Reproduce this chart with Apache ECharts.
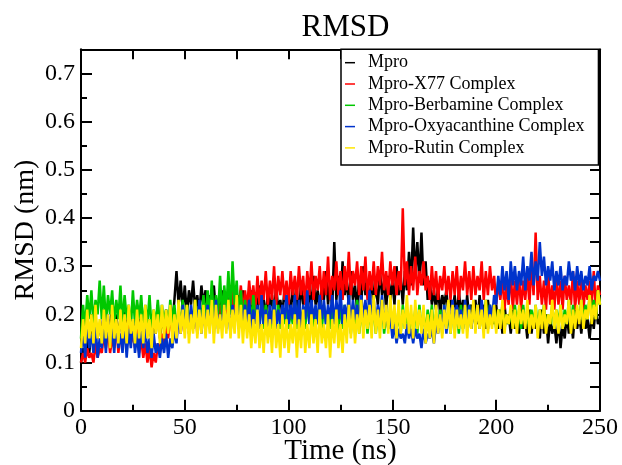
<!DOCTYPE html>
<html>
<head>
<meta charset="utf-8">
<script src="https://cdn.jsdelivr.net/npm/echarts@6/dist/echarts.min.js"></script>
<style>
html,body{margin:0;padding:0;background:#fff;}
#chart{width:622px;height:465px;}
</style>
</head>
<body>
<div id="chart"></div>
<script>
// Sampling step of the trajectory (ns)
var timeStep = 1;
var xTicks = [0, 50, 100, 150, 200, 250];
var yTicks = [0, 0.1, 0.2, 0.3, 0.4, 0.5, 0.6, 0.7];
var seriesNames = ['Mpro', 'Mpro-X77 Complex', 'Mpro-Berbamine Complex', 'Mpro-Oxyacanthine Complex', 'Mpro-Rutin Complex'];

var mpro = [
.10,.13,.11,.15,.12,.17,.14,.19,.15,.18,
.16,.21,.15,.19,.17,.22,.16,.20,.15,.19,
.17,.21,.16,.20,.14,.19,.17,.22,.16,.20,
.15,.21,.17,.19,.14,.20,.16,.22,.15,.19,
.17,.21,.16,.20,.18,.23,.29,.22,.27,.21,
.26,.20,.25,.22,.27,.21,.24,.20,.26,.22,
.25,.19,.24,.21,.26,.20,.23,.19,.25,.21,
.24,.20,.26,.21,.23,.19,.24,.20,.25,.21,
.23,.19,.25,.20,.24,.21,.26,.20,.23,.19,
.25,.21,.24,.20,.26,.21,.23,.20,.25,.22,
.24,.20,.26,.21,.25,.19,.27,.22,.24,.20,
.26,.21,.28,.22,.25,.20,.27,.23,.29,.22,
.27,.21,.35,.23,.28,.22,.31,.24,.27,.22,
.29,.23,.26,.21,.28,.22,.30,.24,.27,.21,
.28,.23,.26,.22,.29,.24,.27,.21,.28,.23,
.27,.22,.30,.24,.28,.22,.29,.25,.33,.26,
.38,.28,.35,.27,.37,.26,.31,.23,.27,.22,
.25,.21,.26,.20,.24,.22,.25,.20,.23,.21,
.24,.19,.25,.20,.23,.18,.24,.19,.22,.20,
.23,.18,.24,.19,.22,.17,.23,.19,.21,.18,
.22,.17,.21,.16,.22,.18,.20,.16,.21,.17,
.20,.16,.22,.17,.19,.15,.21,.16,.20,.17,
.19,.15,.21,.16,.20,.14,.19,.16,.18,.14,
.19,.13,.18,.15,.20,.16,.19,.15,.21,.17,
.20,.16,.21,.17,.19,.15,.20,.17,.22,.18,
.19];

var x77 = [
.10,.12,.10,.13,.11,.12,.10,.14,.11,.13,
.12,.16,.13,.17,.12,.15,.13,.18,.12,.16,
.14,.17,.13,.19,.14,.16,.13,.18,.12,.15,
.11,.14,.10,.13,.09,.12,.10,.14,.12,.16,
.14,.18,.15,.20,.16,.19,.15,.21,.16,.20,
.17,.21,.16,.20,.17,.22,.16,.21,.18,.20,
.17,.22,.18,.21,.17,.23,.18,.22,.19,.24,
.18,.23,.20,.25,.19,.24,.21,.26,.20,.25,
.21,.27,.22,.26,.21,.28,.22,.27,.23,.29,
.22,.27,.23,.30,.22,.28,.24,.29,.23,.27,
.22,.29,.24,.28,.23,.30,.24,.28,.22,.29,
.24,.31,.23,.28,.25,.30,.23,.29,.24,.32,
.23,.28,.25,.31,.24,.29,.23,.30,.25,.33,
.24,.29,.26,.31,.24,.30,.25,.32,.23,.29,
.25,.31,.24,.30,.26,.33,.25,.29,.24,.31,
.26,.30,.24,.29,.25,.42,.26,.31,.24,.30,
.25,.32,.24,.29,.26,.31,.25,.28,.23,.30,
.24,.29,.23,.28,.25,.30,.24,.28,.23,.29,
.24,.30,.23,.28,.25,.31,.24,.29,.23,.30,
.24,.28,.25,.31,.23,.29,.24,.30,.25,.28,
.22,.27,.23,.28,.21,.26,.22,.29,.21,.27,
.22,.28,.21,.27,.23,.29,.22,.31,.24,.37,
.23,.28,.22,.27,.21,.29,.22,.26,.21,.28,
.22,.27,.21,.28,.23,.26,.22,.29,.21,.27,
.22,.28,.21,.26,.23,.27,.22,.29,.21,.26,
.24];

var berbamine = [
.15,.22,.17,.24,.19,.25,.18,.23,.20,.27,
.19,.26,.18,.24,.20,.25,.18,.23,.19,.26,
.18,.24,.19,.22,.17,.25,.18,.23,.19,.24,
.17,.22,.18,.24,.17,.21,.18,.23,.17,.22,
.18,.21,.17,.23,.18,.22,.17,.21,.18,.23,
.17,.22,.18,.21,.17,.23,.18,.22,.19,.24,
.18,.25,.19,.27,.18,.24,.20,.28,.19,.26,
.21,.29,.20,.31,.22,.27,.19,.25,.18,.23,
.19,.22,.18,.24,.19,.21,.18,.23,.17,.22,
.18,.21,.17,.23,.18,.22,.17,.21,.18,.22,
.17,.21,.18,.23,.17,.22,.18,.21,.17,.23,
.18,.22,.17,.21,.18,.23,.17,.22,.18,.21,
.17,.22,.18,.21,.16,.23,.17,.22,.18,.21,
.16,.22,.17,.23,.16,.21,.17,.22,.16,.21,
.17,.22,.16,.21,.17,.23,.16,.20,.17,.22,
.16,.21,.17,.20,.16,.22,.17,.21,.16,.20,
.17,.21,.16,.22,.17,.20,.16,.21,.17,.22,
.16,.20,.17,.21,.16,.22,.17,.20,.16,.21,
.17,.21,.16,.22,.17,.20,.18,.22,.17,.21,
.18,.22,.17,.21,.18,.23,.17,.22,.18,.21,
.17,.21,.18,.22,.17,.20,.18,.21,.17,.22,
.18,.21,.17,.22,.18,.20,.17,.21,.18,.22,
.17,.21,.18,.22,.17,.20,.18,.22,.17,.21,
.18,.22,.17,.21,.18,.23,.17,.22,.18,.21,
.19,.23,.18,.22,.19,.24,.20,.23,.19,.25,
.22];

var oxyacanthine = [
.12,.17,.11,.19,.13,.16,.12,.18,.11,.15,
.13,.18,.12,.20,.14,.17,.12,.19,.13,.16,
.12,.18,.11,.17,.13,.19,.12,.16,.11,.18,
.13,.17,.12,.15,.11,.16,.12,.14,.11,.15,
.12,.16,.11,.15,.13,.17,.14,.20,.16,.22,
.17,.21,.16,.22,.18,.20,.17,.23,.16,.21,
.17,.22,.18,.21,.16,.23,.17,.20,.18,.22,
.17,.21,.16,.22,.18,.23,.17,.21,.19,.22,
.18,.23,.17,.21,.18,.22,.17,.24,.18,.21,
.17,.22,.18,.23,.17,.21,.18,.22,.19,.24,
.18,.22,.19,.24,.18,.23,.17,.22,.19,.25,
.18,.23,.19,.22,.18,.24,.19,.23,.18,.22,
.19,.24,.18,.23,.19,.25,.18,.22,.19,.24,
.18,.23,.19,.22,.18,.24,.19,.23,.18,.25,
.19,.23,.18,.22,.19,.24,.18,.21,.17,.20,
.15,.18,.14,.17,.15,.16,.14,.18,.15,.17,
.14,.17,.15,.16,.13,.17,.14,.16,.15,.17,
.14,.18,.16,.20,.17,.22,.16,.21,.18,.23,
.17,.22,.18,.21,.17,.23,.18,.22,.17,.21,
.18,.22,.17,.23,.18,.21,.17,.22,.19,.24,
.22,.28,.24,.30,.25,.29,.23,.31,.26,.30,
.25,.29,.26,.32,.25,.30,.27,.33,.26,.31,
.27,.35,.28,.32,.26,.30,.27,.31,.25,.29,
.26,.30,.25,.28,.26,.31,.27,.29,.25,.30,
.26,.29,.25,.28,.26,.30,.25,.28,.27,.29,
.27];

var rutin = [
.13,.19,.14,.21,.15,.20,.14,.22,.15,.19,
.14,.21,.15,.20,.13,.22,.15,.19,.14,.21,
.15,.20,.14,.22,.16,.19,.14,.21,.15,.20,
.14,.22,.15,.19,.13,.21,.16,.20,.14,.22,
.15,.21,.16,.22,.14,.20,.15,.23,.16,.21,
.15,.22,.14,.20,.16,.23,.15,.21,.16,.22,
.15,.21,.16,.23,.14,.22,.16,.20,.15,.22,
.16,.23,.15,.21,.16,.24,.15,.22,.14,.21,
.15,.20,.13,.19,.14,.21,.13,.18,.12,.20,
.14,.19,.12,.21,.13,.18,.11,.20,.13,.19,
.12,.18,.14,.20,.11,.19,.13,.21,.12,.18,
.13,.20,.14,.19,.12,.21,.14,.18,.13,.20,
.11,.19,.14,.21,.13,.18,.12,.20,.14,.22,
.15,.21,.14,.20,.16,.23,.15,.21,.17,.22,
.15,.24,.16,.21,.15,.23,.17,.22,.16,.24,
.17,.22,.15,.23,.16,.21,.17,.24,.16,.22,
.15,.23,.17,.21,.16,.22,.14,.20,.15,.21,
.14,.22,.16,.20,.15,.21,.17,.23,.16,.22,
.15,.21,.17,.20,.16,.22,.15,.21,.17,.23,
.16,.22,.17,.21,.15,.23,.16,.20,.17,.22,
.16,.21,.17,.23,.16,.20,.18,.22,.17,.21,
.16,.22,.18,.21,.17,.23,.16,.20,.17,.22,
.15,.21,.17,.22,.16,.20,.18,.23,.17,.21,
.16,.22,.17,.20,.18,.23,.16,.21,.17,.22,
.18,.23,.17,.21,.19,.24,.18,.22,.19,.25,
.22];

var seriesValues = [mpro, x77, berbamine, oxyacanthine, rutin];
var colors = ['#000000', '#ff0000', '#00c800', '#0033cc', '#ffe600'];

var FONT = '"Liberation Serif", "Times New Roman", serif';

function toPairs(arr) {
  return arr.map(function (v, i) { return [i * timeStep, v]; });
}

var chart = echarts.init(document.getElementById('chart'), null, {renderer: 'canvas'});

var axisLineStyle = {color: '#000', width: 2};

var option = {
  animation: false,
  backgroundColor: '#fff',
  color: colors,
  title: {
    text: 'RMSD',
    left: 340.5,
    textAlign: 'center',
    top: 7,
    textStyle: {fontFamily: FONT, fontSize: 31, fontWeight: 'normal', color: '#000'}
  },
  grid: {left: 81, right: 22, top: 49.3, bottom: 54.2, containLabel: false, outerBoundsMode: 'none'},
  legend: {
    orient: 'vertical',
    left: 341,
    top: 49.3,
    padding: [4.4, 14, 8, 4],
    itemGap: 3.3,
    itemWidth: 10,
    itemHeight: 1.5,
    icon: 'rect',
    borderColor: '#000',
    borderWidth: 1.5,
    backgroundColor: '#fff',
    selectedMode: false,
    data: seriesNames,
    textStyle: {fontFamily: FONT, fontSize: 18, color: '#000', lineHeight: 18, padding: [0, 0, 0, 8]}
  },
  xAxis: [{
    type: 'value',
    min: xTicks[0],
    max: xTicks[xTicks.length - 1],
    interval: xTicks[1] - xTicks[0],
    axisLine: {show: true, onZero: false, lineStyle: axisLineStyle},
    axisTick: {show: true, inside: true, length: 11, lineStyle: {color: '#000', width: 2}},
    minorTick: {show: true, splitNumber: 2, length: 6, lineStyle: {color: '#000', width: 2}},
    splitLine: {show: false},
    minorSplitLine: {show: false},
    axisLabel: {fontFamily: FONT, fontSize: 24, color: '#000', margin: 5},
    name: 'Time (ns)',
    nameLocation: 'middle',
    nameMoveOverlap: false,
    nameGap: 26,
    nameTextStyle: {fontFamily: FONT, fontSize: 29, color: '#000'}
  }, {
    type: 'value',
    position: 'top',
    min: xTicks[0],
    max: xTicks[xTicks.length - 1],
    interval: 25,
    axisLine: {show: true, onZero: false, lineStyle: axisLineStyle},
    axisTick: {show: true, inside: true, length: 10, lineStyle: {color: '#000', width: 2}},
    splitLine: {show: false},
    axisLabel: {show: false}
  }],
  yAxis: [{
    type: 'value',
    min: 0,
    max: 0.75,
    interval: yTicks[1] - yTicks[0],
    axisLine: {show: true, onZero: false, lineStyle: axisLineStyle},
    axisTick: {show: true, inside: true, length: 11, lineStyle: {color: '#000', width: 2}},
    minorTick: {show: true, splitNumber: 2, length: 6, lineStyle: {color: '#000', width: 2}},
    splitLine: {show: false},
    minorSplitLine: {show: false},
    axisLabel: {fontFamily: FONT, fontSize: 24, color: '#000', margin: 6, showMaxLabel: false},
    name: 'RMSD (nm)',
    nameLocation: 'middle',
    nameMoveOverlap: false,
    nameGap: 41,
    nameTextStyle: {fontFamily: FONT, fontSize: 28, color: '#000'}
  }, {
    type: 'value',
    position: 'right',
    min: 0,
    max: 0.75,
    interval: 0.05,
    axisLine: {show: true, onZero: false, lineStyle: axisLineStyle},
    axisTick: {show: true, inside: true, length: 10, lineStyle: {color: '#000', width: 2}},
    splitLine: {show: false},
    axisLabel: {show: false}
  }],
  series: seriesNames.map(function (name, k) {
    return {
      name: name,
      type: 'line',
      xAxisIndex: 0,
      yAxisIndex: 0,
      data: toPairs(seriesValues[k]),
      showSymbol: false,
      symbol: 'none',
      lineStyle: {width: 2.5, color: colors[k]},
      itemStyle: {color: colors[k]},
      z: 2 + k,
      silent: true
    };
  })
};

chart.setOption(option);
</script>
</body>
</html>
